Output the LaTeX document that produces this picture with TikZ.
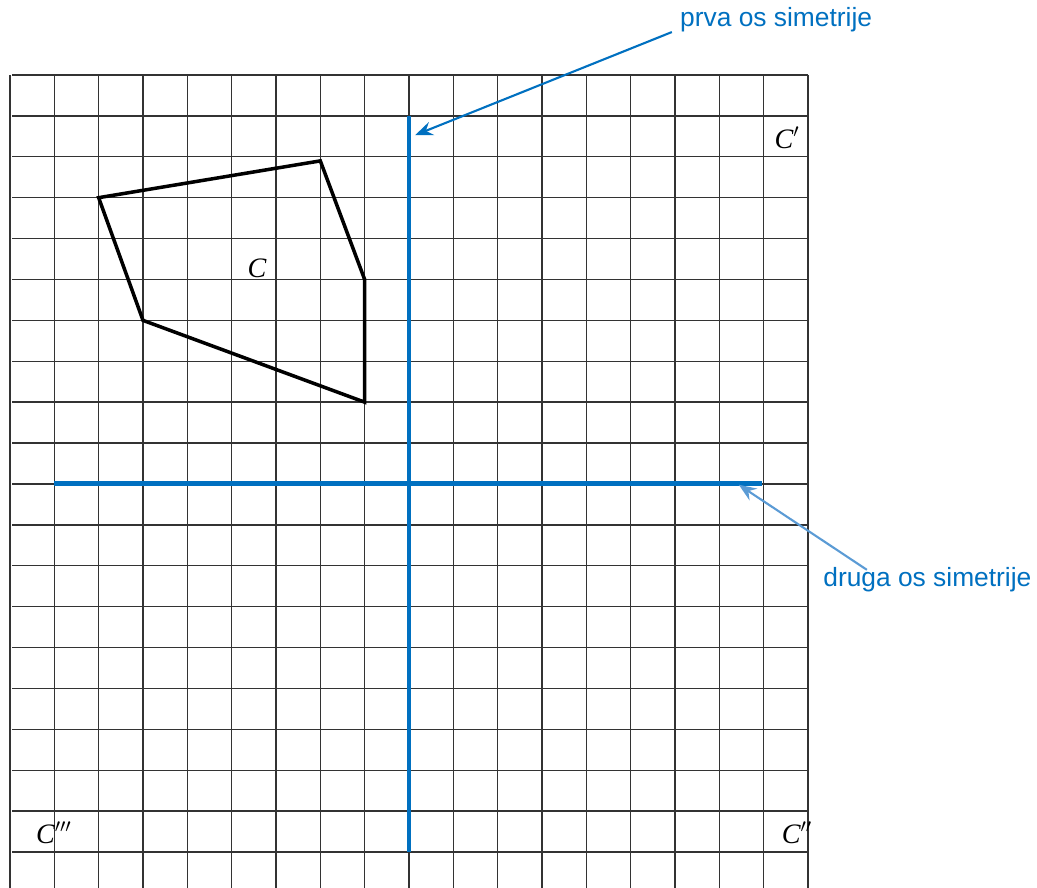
\documentclass[tikz,border=0pt]{standalone}
\usepackage{fontspec}
\setmainfont{Liberation Serif}
\newfontfamily\lblfont{Liberation Sans}
\usepackage{tikz}
\usetikzlibrary{arrows.meta,positioning}
\definecolor{axblue}{HTML}{0070C0}
\definecolor{lightax}{HTML}{5B9BD5}
\tikzset{
  sq/.style={x={(0.8867cm,0)}, y={(0,-0.818cm)}, >=Stealth},
  gridln/.style={black!80, line width=0.8pt},
  figln/.style={black, line width=2pt, line join=miter},
  axis/.style={axblue, line width=2.8pt},
  note/.style={font=\lblfont\fontsize{15}{17}\selectfont, text=axblue, inner sep=0pt},
  pointer/.style={line width=1.2pt, arrows={-Stealth[length=10pt, width=8pt, inset=3.5pt]}},
  lbl/.style={font=\fontsize{16}{18}\selectfont\itshape, inner sep=0pt}
}
\newcommand{\pr}[1]{C$^{#1}$}

\begin{document}
\begin{tikzpicture}[sq]
\useasboundingbox (-0.2256,-1.834) rectangle (23.167,19.878);
% grid
\foreach \i in {0,...,18} \draw[gridln] (\i,0) -- (\i,19.878);
\foreach \j in {0,...,19} \draw[gridln] (0.05,\j) -- (18,\j);
% axes of symmetry
\draw[axis] (9,1) coordinate (v1) -- (9,19) coordinate (v2);
\draw[axis] (1,10) coordinate (h1) -- (16.96,10) coordinate (h2);
% the figure
\draw[figln] (2,3) -- (7,2.1) -- (8,5) -- (8,8) -- (3,6) -- cycle;
\node[lbl] (c0) at (5.57,4.72) {C};
\node[lbl] (c1) at (17.53,1.54) {\pr{\prime}};
\node[lbl] (c2) at (17.75,18.53) {\pr{\prime\prime}};
\node[lbl] (c3) at (0.99,18.53) {\pr{\prime\prime\prime}};
% notes
\node[note, anchor=west] (prva) at (15.11,-1.345) {prva os simetrije};
\node[note, anchor=west] (druga) at (18.34,12.35) {druga os simetrije};
\coordinate (p1) at (9.14,1.47);
\coordinate (p2) at (16.44,10.02);
\coordinate (q1) at (14.93,-1.05);
\coordinate (q2) at (19.33,12.10);
\draw[pointer, axblue] (q1) -- (p1);
\draw[pointer, lightax] (q2) -- (p2);
\end{tikzpicture}
\end{document}
